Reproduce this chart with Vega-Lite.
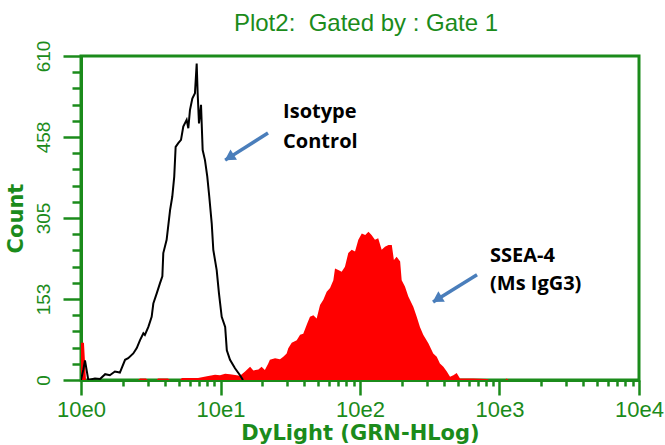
{
  "$schema": "https://vega.github.io/schema/vega-lite/v6.json",
  "width": 558,
  "height": 324,
  "autosize": {"type": "none"},
  "padding": {"left": 81, "top": 56, "right": 26, "bottom": 65},
  "background": "white",
  "config": {
    "view": {"stroke": "#1b8b1b", "strokeWidth": 3},
    "axis": {"grid": false}
  },
  "title": {
    "text": "Plot2:\u00a0\u00a0Gated by\u00a0: Gate 1",
    "font": "Liberation Sans",
    "fontSize": 24,
    "fontWeight": "normal",
    "color": "#1b8b1b",
    "anchor": "middle",
    "dx": 6,
    "offset": 4
  },
  "datasets": {
    "iso": [
      {"x": 1.0, "y": 0}, {"x": 1.04, "y": 20}, {"x": 1.068, "y": 37}, {"x": 1.128, "y": 0},
      {"x": 1.26, "y": 3}, {"x": 1.37, "y": 2}, {"x": 1.49, "y": 11}, {"x": 1.61, "y": 9},
      {"x": 1.75, "y": 16}, {"x": 1.9, "y": 14}, {"x": 2.07, "y": 38}, {"x": 2.18, "y": 41},
      {"x": 2.37, "y": 50}, {"x": 2.51, "y": 60}, {"x": 2.65, "y": 75}, {"x": 2.8, "y": 88},
      {"x": 2.87, "y": 85}, {"x": 3.04, "y": 100}, {"x": 3.21, "y": 119}, {"x": 3.3, "y": 144},
      {"x": 3.49, "y": 163}, {"x": 3.68, "y": 182}, {"x": 3.83, "y": 195}, {"x": 3.89, "y": 239},
      {"x": 4.11, "y": 264}, {"x": 4.35, "y": 320}, {"x": 4.51, "y": 345}, {"x": 4.66, "y": 383},
      {"x": 4.77, "y": 439}, {"x": 4.98, "y": 446}, {"x": 5.21, "y": 452}, {"x": 5.41, "y": 477},
      {"x": 5.72, "y": 490}, {"x": 5.88, "y": 474}, {"x": 6.04, "y": 508}, {"x": 6.28, "y": 530},
      {"x": 6.56, "y": 540}, {"x": 6.75, "y": 596}, {"x": 6.86, "y": 540}, {"x": 7.01, "y": 483},
      {"x": 7.25, "y": 518}, {"x": 7.45, "y": 433}, {"x": 7.74, "y": 414}, {"x": 8.04, "y": 383},
      {"x": 8.31, "y": 345}, {"x": 8.65, "y": 295}, {"x": 8.88, "y": 245}, {"x": 9.39, "y": 207},
      {"x": 9.75, "y": 163}, {"x": 10.2, "y": 119}, {"x": 10.8, "y": 100}, {"x": 11.1, "y": 56},
      {"x": 11.7, "y": 38}, {"x": 12.7, "y": 22}, {"x": 13.8, "y": 9}, {"x": 14.5, "y": 0}
    ],
    "ssea": [
      {"x": 1.0, "y": 70}, {"x": 1.05, "y": 70}, {"x": 1.086, "y": 0}, {"x": 2.56, "y": 0},
      {"x": 2.65, "y": 3}, {"x": 2.92, "y": 3}, {"x": 3.02, "y": 0}, {"x": 3.5, "y": 0},
      {"x": 3.56, "y": 3}, {"x": 4.2, "y": 3}, {"x": 4.35, "y": 0}, {"x": 5.1, "y": 0},
      {"x": 5.3, "y": 4}, {"x": 6.9, "y": 4}, {"x": 8.0, "y": 7}, {"x": 9.14, "y": 10},
      {"x": 9.92, "y": 9}, {"x": 10.8, "y": 12}, {"x": 11.7, "y": 11}, {"x": 13.8, "y": 8},
      {"x": 15.0, "y": 16}, {"x": 16.3, "y": 25}, {"x": 17.2, "y": 18}, {"x": 18.7, "y": 20},
      {"x": 19.7, "y": 25}, {"x": 20.8, "y": 19}, {"x": 22.0, "y": 31}, {"x": 22.6, "y": 38},
      {"x": 24.6, "y": 41}, {"x": 26.7, "y": 39}, {"x": 28.2, "y": 44}, {"x": 29.8, "y": 50},
      {"x": 30.6, "y": 60}, {"x": 32.4, "y": 70}, {"x": 35.2, "y": 75}, {"x": 37.2, "y": 85},
      {"x": 39.2, "y": 87}, {"x": 41.9, "y": 107}, {"x": 43.8, "y": 119}, {"x": 46.3, "y": 122},
      {"x": 48.9, "y": 116}, {"x": 51.7, "y": 141}, {"x": 54.6, "y": 151}, {"x": 57.7, "y": 166},
      {"x": 61.0, "y": 173}, {"x": 64.4, "y": 188}, {"x": 66.2, "y": 210}, {"x": 69.9, "y": 207},
      {"x": 73.9, "y": 204}, {"x": 78.0, "y": 213}, {"x": 82.4, "y": 239}, {"x": 87.2, "y": 245},
      {"x": 92.1, "y": 242}, {"x": 97.3, "y": 264}, {"x": 103, "y": 276}, {"x": 109, "y": 273},
      {"x": 115, "y": 279}, {"x": 121, "y": 273}, {"x": 128, "y": 264}, {"x": 135, "y": 267},
      {"x": 143, "y": 245}, {"x": 151, "y": 251}, {"x": 160, "y": 254}, {"x": 169, "y": 254},
      {"x": 175, "y": 226}, {"x": 183, "y": 232}, {"x": 194, "y": 223}, {"x": 199, "y": 188},
      {"x": 210, "y": 176}, {"x": 222, "y": 157}, {"x": 241, "y": 138}, {"x": 255, "y": 119},
      {"x": 269, "y": 100}, {"x": 284, "y": 85}, {"x": 309, "y": 69}, {"x": 335, "y": 50},
      {"x": 355, "y": 44}, {"x": 374, "y": 31}, {"x": 396, "y": 25}, {"x": 419, "y": 16},
      {"x": 442, "y": 6}, {"x": 467, "y": 9}, {"x": 493, "y": 13}, {"x": 521, "y": 3},
      {"x": 649, "y": 3}, {"x": 809, "y": 2}, {"x": 850, "y": 0}, {"x": 1100, "y": 0},
      {"x": 1127, "y": 3}, {"x": 1160, "y": 0}
    ],
    "arrows": [
      {"x": 21.9, "y": 465, "x2": 10.8, "y2": 414},
      {"x": 690, "y": 198, "x2": 334, "y2": 147}
    ],
    "heads": [
      {"x": 11.55, "y": 419},
      {"x": 357, "y": 152}
    ],
    "labels": [
      {"x": 28.1, "y": 493, "t": "Isotype"},
      {"x": 28.1, "y": 437, "t": "Control"},
      {"x": 855, "y": 222, "t": "SSEA-4"},
      {"x": 855, "y": 169, "t": "(Ms IgG3)"}
    ]
  },
  "layer": [
    {
      "data": {"name": "ssea"},
      "mark": {"type": "area", "color": "#ff0000", "clip": true},
      "encoding": {
        "x": {
          "field": "x", "type": "quantitative",
          "scale": {"type": "log", "domain": [1, 10000], "nice": false},
          "axis": {
            "title": "DyLight (GRN-HLog)",
            "values": [1,2,3,4,5,6,7,8,9,10,20,30,40,50,60,70,80,90,100,200,300,400,500,600,700,800,900,1000,2000,3000,4000,5000,6000,7000,8000,9000,10000],
            "tickCount": 100,
            "labelExpr": "indexof([1,10,100,1000,10000], datum.value) >= 0 ? '10e' + indexof([1,10,100,1000,10000], datum.value) : ''",
            "tickSize": {"condition": {"test": "indexof([1,10,100,1000,10000], datum.value) >= 0", "value": 15}, "value": 6},
            "tickWidth": 2.5,
            "tickColor": "#1b8b1b",
            "domainColor": "#1b8b1b",
            "domainWidth": 3,
            "labelFlush": false,
            "labelOverlap": false,
            "labelPadding": 4,
            "labelFont": "Liberation Sans",
            "labelFontSize": 22,
            "labelColor": "#1b8b1b",
            "titleFont": "DejaVu Sans",
            "titleFontSize": 21,
            "titleFontWeight": "bold",
            "titleColor": "#1b8b1b",
            "titlePadding": 2
          }
        },
        "y": {
          "field": "y", "type": "quantitative",
          "scale": {"domain": [0, 610], "nice": false},
          "axis": {
            "title": "Count",
            "values": [0,30.5,61,91.5,122,152.5,183,213.5,244,274.5,305,335.5,366,396.5,427,457.5,488,518.5,549,579.5,610],
            "tickCount": 100,
            "labelExpr": "datum.value % 152.5 == 0 ? format(datum.value, 'd') : ''",
            "tickSize": {"condition": {"test": "datum.value % 152.5 == 0", "value": 18}, "value": 9},
            "tickWidth": 2.5,
            "tickColor": "#1b8b1b",
            "domainColor": "#1b8b1b",
            "domainWidth": 3,
            "labelAngle": 270,
            "labelFlush": false,
            "labelOverlap": false,
            "labelPadding": 10,
            "labelFont": "Liberation Sans",
            "labelFontSize": 19,
            "labelColor": "#1b8b1b",
            "titleFont": "DejaVu Sans",
            "titleFontSize": 21,
            "titleFontWeight": "bold",
            "titleColor": "#1b8b1b",
            "titlePadding": 8
          }
        }
      }
    },
    {
      "data": {"name": "iso"},
      "mark": {"type": "line", "color": "#000000", "strokeWidth": 2, "clip": true},
      "encoding": {
        "x": {"field": "x", "type": "quantitative"},
        "y": {"field": "y", "type": "quantitative"}
      }
    },
    {
      "data": {"name": "arrows"},
      "mark": {"type": "rule", "color": "#4a7ebb", "strokeWidth": 3.5},
      "encoding": {
        "x": {"field": "x", "type": "quantitative"},
        "y": {"field": "y", "type": "quantitative"},
        "x2": {"field": "x2"},
        "y2": {"field": "y2"}
      }
    },
    {
      "data": {"name": "heads"},
      "mark": {"type": "point", "shape": "triangle-up", "filled": true, "color": "#4a7ebb", "opacity": 1, "size": 150, "angle": 238},
      "encoding": {
        "x": {"field": "x", "type": "quantitative"},
        "y": {"field": "y", "type": "quantitative"}
      }
    },
    {
      "data": {"name": "labels"},
      "mark": {"type": "text", "align": "left", "baseline": "alphabetic", "font": "Open Sans", "fontSize": 20, "fontWeight": "bold", "color": "#000000"},
      "encoding": {
        "x": {"field": "x", "type": "quantitative"},
        "y": {"field": "y", "type": "quantitative"},
        "text": {"field": "t"}
      }
    }
  ]
}
